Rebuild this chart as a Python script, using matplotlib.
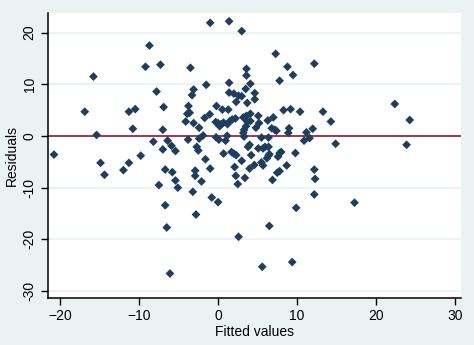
import numpy as np
import matplotlib
matplotlib.use('Agg')
from matplotlib import pyplot as plt

# fitted values and residuals
fitted = [-20.8, -16.9, -15.8, -15.4, -14.9, -14.4, -12.0, -11.3, -11.3, -10.8,
          -10.5, -9.8, -9.2, -8.7, -8.2, -7.8, -7.3, -7.5, -7.0, -7.0,
          -6.9, -6.7, -6.7, -6.5, -6.4, -6.1, -5.9, -5.8, -5.4, -5.4,
          -5.1, -4.1, -3.9, -3.6, -3.8, -3.75, -3.5, -3.3, -3.1, -3.1,
          -3.2, -2.9, -2.9, -2.8, -2.7, -2.5, -2.4, -2.4, -2.1, -1.9,
          -1.7, -1.6, -1.5, -1.05, -1.0, -1.0, -0.8, -0.3, -0.25, -0.2,
          0.0, 0.0, 0.1, 0.2, 0.2, 0.4, 0.55, 0.7, 0.7, 0.95,
          1.15, 1.2, 1.3, 1.4, 1.4, 1.4, 1.5, 1.7, 1.8, 2.0,
          2.0, 2.1, 2.2, 2.25, 2.3, 2.3, 2.5, 2.6, 2.6, 3.0,
          3.0, 3.0, 3.2, 3.2, 3.3, 3.3, 3.4, 3.5, 3.55, 3.6,
          3.6, 3.6, 3.7, 3.7, 3.8, 4.0, 4.0, 4.1, 4.1, 4.1,
          4.2, 4.6, 4.65, 4.65, 4.8, 5.1, 5.2, 5.1, 5.5, 5.5,
          5.6, 5.7, 5.7, 5.95, 6.2, 6.3, 6.4, 6.4, 6.4, 6.5,
          6.5, 6.8, 6.9, 7.0, 7.2, 7.3, 7.4, 7.5, 7.6, 7.8,
          7.8, 7.8, 8.0, 8.3, 8.7, 8.8, 8.9, 9.0, 9.2, 9.4,
          9.5, 9.8, 9.9, 10.4, 10.9, 11.2, 11.6, 12.0, 12.2, 12.2,
          12.3, 12.2, 13.3, 14.3, 14.9, 17.3, 22.4, 23.9, 24.3]
resid = [-3.6, 4.7, 11.5, 0.2, -5.2, -7.5, -6.6, 4.7, -5.2, 1.4,
         5.2, -3.8, 13.4, 17.5, -1.1, 8.6, 13.8, -9.5, 1.2, -2.6,
         5.6, -6.5, -13.4, -17.7, -0.9, -26.6, -1.9, -7.0, -2.9, -8.6,
         -10.0, 2.8, 4.3, 4.5, -0.7, 5.8, 13.2, 7.9, 9.0, 2.5,
         -10.8, -6.7, -7.7, -15.2, -2.1, -2.8, 1.6, -0.5, -8.8, 0.1,
         3.5, -4.5, 9.9, 4.2, 21.9, -6.3, -11.9, 2.7, -0.25, 5.8,
         -12.8, 2.5, -0.7, 2.1, 1.9, 2.3, 5.1, 2.6, -3.4, -0.9,
         0.05, 2.3, 5.1, 22.2, 10.3, 8.4, 2.9, -3.1, 3.2, 8.2,
         -3.4, -6.0, 3.4, -7.7, 6.6, -3.7, -9.3, 7.8, -19.5, 20.3,
         7.7, -4.8, 3.6, 0.6, 1.2, -0.1, -8.1, 9.1, 1.9, 13.0,
         11.7, 3.9, 6.4, 2.8, -2.1, -1.7, -6.3, 10.1, 4.3, 2.9,
         -3.7, -5.6, 8.3, 7.1, 1.6, 3.9, 2.5, -2.4, -0.3, -5.1,
         -25.3, -2.4, -5.7, -2.1, -4.3, 3.0, -0.3, -2.1, -3.8, -17.4,
         -3.5, 1.5, -8.5, 3.6, 1.2, 15.9, 1.0, -7.1, -4.0, -6.8,
         10.7, -3.3, -3.1, 5.0, -5.7, 13.4, 0.6, 1.5, 5.2, -24.4,
         11.8, -3.3, -13.9, 4.7, -0.9, 0.7, -0.4, 1.4, 14.0, -6.5,
         -8.3, -11.3, 4.7, 2.8, -1.5, -12.9, 6.2, -1.7, 3.1]

x_ticks = [-20, -10, 0, 10, 20, 30]
y_ticks = [-30, -20, -10, 0, 10, 20]

plt.rcParams['font.family'] = ['Liberation Sans', 'DejaVu Sans']

bg = '#eaf2f3'
fig = plt.figure(figsize=(4.74, 3.45), dpi=100, facecolor=bg)
ax = fig.add_axes([0.1006, 0.1354, 0.8720, 0.8269])
ax.set_facecolor('white')

ax.set_xlim(-21.6, 30.8)
ax.set_ylim(-31.4, 23.8)

# horizontal grid
for yv in y_ticks:
    ax.axhline(yv, color=bg, lw=1.3, zorder=1)

ax.axhline(0, color='#9c1335', lw=1.2, zorder=2)
ax.scatter(fitted, resid, marker='D', s=20, color='#1f3d5c', edgecolors='none', zorder=3)

ax.set_xticks(x_ticks)
ax.set_yticks(y_ticks)
ax.set_yticklabels([str(v) for v in y_ticks], rotation=90, va='center')
ax.tick_params(axis='both', direction='out', length=5, width=1, labelsize=10, pad=3)

for side in ['top', 'right']:
    ax.spines[side].set_visible(False)
for side in ['left', 'bottom']:
    ax.spines[side].set_linewidth(1.1)

ax.set_xlabel('Fitted values', fontsize=10, labelpad=1)
ax.set_ylabel('Residuals', fontsize=10, labelpad=3)

fig.savefig('out.png', dpi=100, facecolor=bg)
